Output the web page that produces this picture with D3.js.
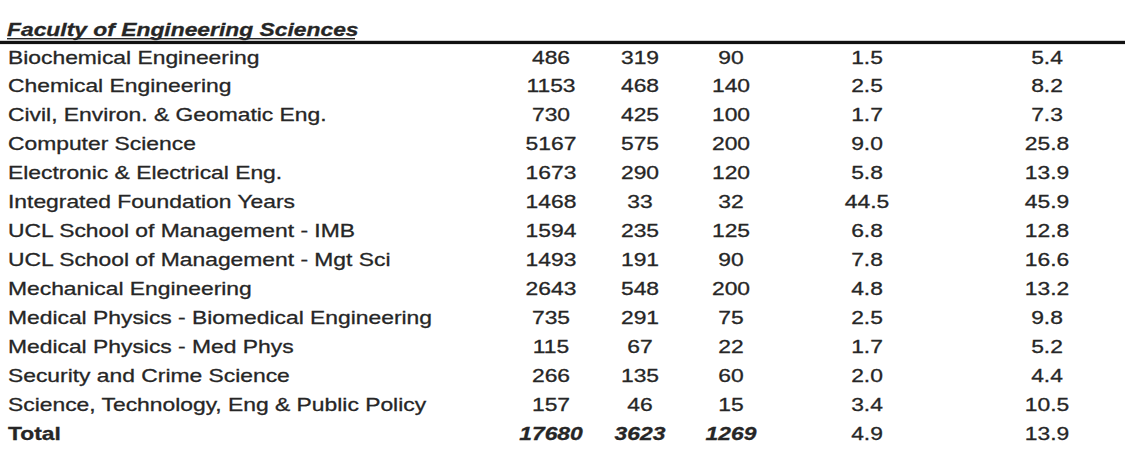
<!DOCTYPE html>
<html><head><meta charset="utf-8">
<script src="https://cdn.jsdelivr.net/npm/d3@7"></script>
<style>body{margin:0;background:#fff}svg{display:block}</style>
</head><body><svg id="c" width="1125" height="472"></svg>
<script>
const facultyTitle = "Faculty of Engineering Sciences";
const departments = [
  "Biochemical Engineering",
  "Chemical Engineering",
  "Civil, Environ. & Geomatic Eng.",
  "Computer Science",
  "Electronic & Electrical Eng.",
  "Integrated Foundation Years",
  "UCL School of Management - IMB",
  "UCL School of Management - Mgt Sci",
  "Mechanical Engineering",
  "Medical Physics - Biomedical Engineering",
  "Medical Physics - Med Phys",
  "Security and Crime Science",
  "Science, Technology, Eng & Public Policy"
];
const applications = [486,1153,730,5167,1673,1468,1594,1493,2643,735,115,266,157];
const offers = [319,468,425,575,290,33,235,191,548,291,67,135,46];
const places = [90,140,100,200,120,32,125,90,200,75,22,60,15];
const appsPerOffer = [1.5,2.5,1.7,9.0,5.8,44.5,6.8,7.8,4.8,2.5,1.7,2.0,3.4];
const appsPerPlace = [5.4,8.2,7.3,25.8,13.9,45.9,12.8,16.6,13.2,9.8,5.2,4.4,10.5];
const totalLabel = "Total";
const totalValues = [17680,3623,1269,4.9,13.9];

const svg = d3.select("#c");
const FONT = "'Liberation Sans', Arial, Helvetica, sans-serif";
const SX = 1.19, FS = 19.2, INK = "#262626";

const rowKeys = departments.concat([totalLabel]);
const y = d3.scalePoint().domain(rowKeys).range([63.5, 440]);
const colKeys = ["apps","offers","places","perOffer","perPlace"];
const x = d3.scaleOrdinal().domain(colKeys).range([551, 640, 731, 867, 1047]);
const fmtInt = d3.format("d"), fmt1 = d3.format(".1f");

function txt(parent, px, py, s, anchor, weight, style) {
  parent.append("g").attr("transform", `translate(${px},${py}) scale(${SX},1)`)
    .append("text").attr("text-anchor", anchor)
    .attr("font-family", FONT).attr("font-size", FS)
    .attr("font-weight", weight || "normal").attr("font-style", style || "normal")
    .attr("fill", INK).attr("stroke", INK).attr("stroke-width", 0.3)
    .text(s);
}

// title
txt(svg, 7, 36, facultyTitle, "start", "bold", "italic");
svg.append("rect").attr("x", 7).attr("y", 38).attr("width", 348).attr("height", 1.4).attr("fill", INK);
svg.append("rect").attr("x", 0).attr("y", 40.8).attr("width", 1125).attr("height", 3.3).attr("fill", "#111");

const rows = departments.map((d, i) => ({
  label: d,
  vals: [fmtInt(applications[i]), fmtInt(offers[i]), fmtInt(places[i]), fmt1(appsPerOffer[i]), fmt1(appsPerPlace[i])],
  total: false
}));
rows.push({label: totalLabel,
  vals: [fmtInt(totalValues[0]), fmtInt(totalValues[1]), fmtInt(totalValues[2]), fmt1(totalValues[3]), fmt1(totalValues[4])],
  total: true});

const body = svg.append("g");
rows.forEach(r => {
  const py = y(r.label);
  txt(body, 8, py, r.label, "start", r.total ? "bold" : "normal", "normal");
  r.vals.forEach((v, j) => {
    const it = r.total && j < 3;
    txt(body, x(colKeys[j]), py, v, "middle", it ? "bold" : "normal", it ? "italic" : "normal");
  });
});
</script></body></html>
